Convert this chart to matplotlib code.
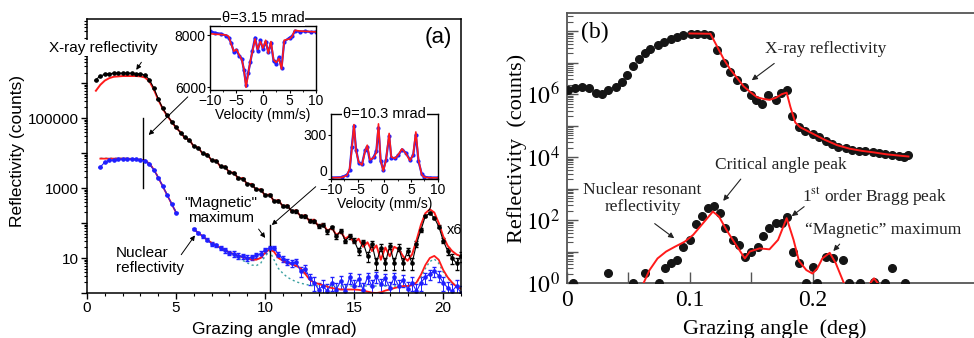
import numpy as np
import matplotlib.pyplot as plt
from matplotlib.ticker import LogLocator, FuncFormatter, NullFormatter, MultipleLocator

plt.rcParams['font.family'] = 'Liberation Sans'
plt.rcParams['mathtext.fontset'] = 'stix'

RED = '#ff1a1a'
BLUE = '#1f1fff'
TEAL = '#3aa0a0'
SERIF = 'Liberation Serif'

# ---- panel (a): grazing angle grid (mrad), values are log10(counts)
xa = np.arange(0.5, 21.01, 0.25)
xray_fit = [5.78, 5.95, 6.07, 6.14, 6.18, 6.19, 6.20, 6.20, 6.20, 6.20, 6.19, 6.16,
            6.05, 5.82, 5.52, 5.27, 5.06, 4.90, 4.72,
            4.60, 4.42, 4.38, 4.18, 4.16, 3.97, 3.97, 3.78, 3.79, 3.60, 3.62, 3.43, 3.45, 3.26, 3.29, 3.10, 3.12, 2.94, 2.97, 2.78,
            2.82, 2.62, 2.66, 2.47, 2.51, 2.32, 2.37, 2.18, 2.23, 2.04, 2.10, 1.90, 1.97, 1.78, 1.86, 1.66, 1.75, 1.55, 1.64, 1.43,
            1.55, 1.32, 1.45, 1.20, 1.36, 0.95, 1.30, 1.05, 1.32, 1.25, 1.05, 0.92, 1.10, 1.50, 1.95, 2.28, 2.39, 2.30, 2.00, 1.62,
            1.35, 1.20, 1.10, 1.05]
xray_data = [6.10, 6.20, 6.25, 6.27, 6.28, 6.28, 6.28, 6.28, 6.28, 6.27, 6.26, 6.23,
             6.10, 5.86, 5.55, 5.28, 5.08, 4.90, 4.74,
             4.58, 4.45, 4.36, 4.20, 4.14, 3.99, 3.95, 3.80, 3.77, 3.62, 3.60, 3.45, 3.43, 3.28, 3.27, 3.12, 3.10, 2.96, 2.95, 2.80,
             2.80, 2.64, 2.63, 2.49, 2.48, 2.35, 2.33, 2.20, 2.19, 2.07, 2.05, 1.92, 1.95, 1.76, 1.88, 1.62, 1.78, 1.50, 1.62, 1.50,
             1.20, 1.45, 1.05, 1.40, 0.85, 1.30, 0.85, 1.35, 0.85, 1.30, 0.85, 1.20, 0.85, 1.40, 1.80, 2.20, 2.28, 2.15, 1.90, 1.50,
             1.20, 1.00, 0.85, 1.05]

x_nuc1 = np.arange(0.75, 5.01, 0.25)
nuc1_data = [3.60, 3.74, 3.79, 3.81, 3.82, 3.83, 3.82, 3.83, 3.82, 3.80, 3.77, 3.68, 3.52, 3.30, 3.06, 2.80, 2.55, 2.30]
nuc1_fit = [3.84, 3.84, 3.84, 3.84, 3.84, 3.84, 3.84, 3.83, 3.82, 3.81, 3.79, 3.70, 3.53, 3.30, 3.05, 2.80, 2.55, 2.30]
nuc1_dot = [3.85, 3.85, 3.85, 3.85, 3.85, 3.85, 3.85, 3.84, 3.83, 3.82, 3.80, 3.71, 3.54, 3.31, 3.06, 2.81, 2.56, 2.31]

x_nuc2 = np.arange(6.0, 21.01, 0.25)
nuc2_data = [1.82, 1.72, 1.62, 1.52, 1.40, 1.36, 1.28, 1.22, 1.15, 1.12, 1.06, 1.05, 1.00, 1.02, 1.08, 1.12, 1.22, 1.30, 1.28, 1.10,
             0.98, 0.90, 0.85, 0.88, 0.62, 0.70, 0.42, 0.30, 0.10, 0.20, 0.05, 0.30, 0.10, 0.35, 0.05, 0.45, 0.20, 0.40, 0.10, 0.45,
             0.20, 0.48, 0.25, 0.42, 0.15, 0.45, 0.20, 0.38, 0.12, 0.30, 0.05, 0.30, 0.45, 0.55, 0.62, 0.50, 0.30, 0.15, 0.05, 0.20,
             0.00]
nuc2_fit = [1.82, 1.72, 1.62, 1.52, 1.43, 1.36, 1.29, 1.22, 1.16, 1.11, 1.06, 1.02, 0.99, 0.96, 0.95, 1.00, 1.15, 1.25, 1.18, 1.00,
            0.92, 0.86, 0.82, 0.78, 0.70, 0.55, 0.38, 0.30, 0.26, 0.22, 0.18, 0.14, 0.12, 0.10, 0.10, 0.10, 0.10, 0.09, 0.07, 0.04,
            0.01, 0.00, 0.02, 0.07, 0.10, 0.14, 0.17, 0.20, 0.20, 0.22, 0.30, 0.52, 0.80, 1.00, 1.06, 0.95, 0.66, 0.45, 0.30, 0.18,
            0.12]
nuc2_dot = [1.82, 1.72, 1.62, 1.52, 1.43, 1.36, 1.29, 1.22, 1.15, 1.08, 1.00, 0.93, 0.86, 0.80, 0.78, 0.85, 1.05, 1.20, 0.95, 0.70,
            0.56, 0.45, 0.38, 0.32, 0.28, 0.25, 0.22, 0.21, 0.20, 0.20, 0.20, 0.20, 0.20, 0.20, 0.20, 0.20, 0.20, 0.20, 0.20, 0.20,
            0.20, 0.20, 0.20, 0.20, 0.20, 0.20, 0.20, 0.20, 0.20, 0.24, 0.30, 0.45, 0.70, 0.90, 0.97, 0.85, 0.60, 0.42, 0.28, 0.20,
            0.15]

# ---- insets: Mossbauer spectra
v1 = [-10, -9, -8, -7, -6.5, -6, -5.5, -5, -4.5, -4, -3.6, -3.2, -2.8, -2.4, -2, -1.5, -1, -0.5, 0,
      0.5, 1, 1.5, 2, 2.5, 3, 3.5, 4, 5, 5.5, 6, 7, 8, 9, 10]
s1_fit = [8050, 8030, 8020, 8000, 7950, 7650, 7380, 7450, 7250, 7050, 6700, 6000, 6500, 7000, 7350, 7850, 7450, 7750, 7500,
          7800, 7300, 7750, 7050, 6950, 7100, 6700, 7800, 7850, 7950, 8180, 8150, 8140, 8130, 8120]
s1_data = [8150, 8080, 8050, 7980, 7900, 7700, 7350, 7420, 7200, 7100, 6650, 6100, 6550, 6950, 7400, 7900, 7400, 7800, 7450,
           7750, 7350, 7700, 7000, 6900, 7150, 6750, 7750, 7900, 7950, 8150, 8120, 8150, 8110, 8130]
v2 = [-10, -8, -7, -6.5, -6.1, -5.7, -5.3, -4.8, -4.2, -3.6, -3.2, -2.7, -2.0, -1.5, -1.1, -0.7, -0.2,
      0.3, 0.9, 1.3, 2.0, 2.6, 3.3, 4.0, 4.8, 5.4, 5.9, 6.4, 7.0, 7.5, 8.5, 10]
s2_fit = [8, 10, 25, 70, 200, 370, 190, 115, 95, 190, 230, 130, 145, 180, 375, 130, 55,
          125, 310, 150, 140, 165, 205, 175, 125, 165, 320, 130, 30, 12, 8, 8]
s2_data = [10, 12, 30, 60, 220, 360, 200, 110, 100, 195, 215, 120, 150, 190, 350, 125, 60,
           130, 290, 145, 140, 160, 200, 180, 130, 160, 300, 120, 35, 15, 10, 10]

# ---- panel (b): grazing angle (deg), log10(counts)
bx_x = [0.001, 0.007, 0.013, 0.018, 0.024, 0.029, 0.034, 0.040, 0.045, 0.049, 0.054, 0.059, 0.064, 0.068, 0.074, 0.079,
        0.085, 0.090, 0.095, 0.101, 0.106, 0.112, 0.117, 0.122, 0.128, 0.133, 0.139, 0.144, 0.150, 0.154, 0.159, 0.164,
        0.170, 0.174, 0.179, 0.183, 0.189, 0.194, 0.200, 0.205, 0.211, 0.216, 0.221, 0.227, 0.232, 0.238, 0.243, 0.249,
        0.254, 0.259, 0.265, 0.270, 0.274, 0.278]
bx_log = [6.12, 6.19, 6.22, 6.19, 6.03, 6.00, 6.12, 6.22, 6.40, 6.61, 6.88, 7.11, 7.30, 7.43, 7.57, 7.67,
          7.76, 7.83, 7.89, 7.92, 7.92, 7.92, 7.89, 7.41, 6.98, 6.72, 6.45, 6.22, 5.98, 5.82, 5.69, 5.98,
          5.82, 6.03, 6.12, 5.31, 4.97, 4.83, 4.74, 4.63, 4.52, 4.42, 4.33, 4.28, 4.23, 4.21, 4.18, 4.15,
          4.12, 4.10, 4.07, 4.05, 4.00, 4.07]
bxf_x = [0.100, 0.117, 0.122, 0.128, 0.133, 0.139, 0.144, 0.150, 0.155, 0.160, 0.165, 0.170, 0.175, 0.179,
         0.182, 0.186, 0.190, 0.195, 0.200, 0.210, 0.220, 0.230, 0.240, 0.250, 0.260, 0.270, 0.278]
bxf_log = [7.93, 7.92, 7.55, 7.10, 6.80, 6.50, 6.25, 6.05, 5.90, 5.85, 5.82, 5.88, 6.00, 6.05,
           5.60, 5.10, 4.95, 4.85, 4.75, 4.55, 4.38, 4.27, 4.20, 4.15, 4.09, 4.05, 4.02]
bn_x = [0.005, 0.034, 0.054, 0.064, 0.075, 0.080, 0.085, 0.090, 0.095, 0.100, 0.105, 0.110, 0.115, 0.120, 0.125,
        0.129, 0.135, 0.140, 0.145, 0.150, 0.156, 0.160, 0.165, 0.170, 0.175, 0.179, 0.184, 0.189, 0.195, 0.200,
        0.204, 0.211, 0.217, 0.225, 0.230, 0.239, 0.250, 0.259, 0.265, 0.275]
bn_log = [0, 0.33, 0, 0.33, 0, 0.49, 0.65, 0.73, 1.15, 1.37, 1.87, 2.13, 2.37, 2.45, 2.21,
          1.74, 1.37, 1.21, 0.84, 1.00, 1.13, 1.49, 1.74, 1.90, 1.92, 2.11, 1.00, 0.63, 0.0, 0.50,
          0.0, 0.82, 0.78, 0.73, 0.0, 0.0, 0.04, 0.0, 0.49, 0.0]
bnf_x = [0.0615, 0.0675, 0.074, 0.081, 0.088, 0.096, 0.103, 0.111, 0.119, 0.124, 0.130, 0.137, 0.145, 0.149, 0.157,
         0.165, 0.172, 0.179, 0.1846, 0.189, 0.195, 0.200, 0.204, 0.208, 0.214, 0.219, 0.226, 0.240, 0.246, 0.250,
         0.254, 0.260]
bnf_log = [-0.1, 0.41, 0.78, 1.00, 1.15, 1.31, 1.53, 1.90, 2.27, 2.11, 1.69, 1.26, 0.78, 1.00, 1.10,
           1.07, 1.37, 2.06, 1.37, 0.70, 0.41, 0.30, 0.47, 0.78, 0.96, 0.62, -0.05, -0.5, -0.05, 0.15,
           -0.05, -0.5]


def p10(a):
    return 10 ** np.asarray(a, dtype=float)


fig = plt.figure(figsize=(9.74, 3.38), dpi=100)

# ================= panel (a)
ax = fig.add_axes([87 / 974, 45 / 338, 374 / 974, 274 / 338])
yd = p10(xray_data)
ax.errorbar(xa, yd, yerr=np.sqrt(yd), fmt='-o', color='k', ms=2.3, lw=0.8,
            elinewidth=0.7, capsize=1.3)
ax.plot(xa, p10(xray_fit), color=RED, lw=1.4)

for xs, d, f, t in [(x_nuc1, nuc1_data, nuc1_fit, nuc1_dot), (x_nuc2, nuc2_data, nuc2_fit, nuc2_dot)]:
    yb = p10(d)
    ax.errorbar(xs, yb, yerr=0.6 * np.sqrt(yb), fmt='-o', color=BLUE, ms=2.3, lw=0.8,
                elinewidth=0.7, capsize=1.3)
    ax.plot(xs, p10(t), color=TEAL, lw=1.0, ls=(0, (1.5, 2)))
    ax.plot(xs, p10(f), color=RED, lw=1.3)

ax.plot([3.15, 3.15], [1e3, 1e5], color='k', lw=1.0)
ax.plot([10.3, 10.3], [10 ** 1.94, 1], color='k', lw=1.0)

ax.set_xlim(0, 21)
ax.set_yscale('log')
ax.set_ylim(1, 10 ** 7.83)
ax.xaxis.set_major_locator(MultipleLocator(5))
ax.xaxis.set_minor_locator(MultipleLocator(1))
ax.yaxis.set_major_locator(LogLocator(base=10, numticks=20))
ax.yaxis.set_minor_locator(LogLocator(base=10, subs=np.arange(2, 10), numticks=20))
ax.yaxis.set_minor_formatter(NullFormatter())


def fmt_a(v, pos):
    e = int(round(np.log10(v)))
    return f'{int(round(v))}' if e in (1, 3, 5) else ''


ax.yaxis.set_major_formatter(FuncFormatter(fmt_a))
ax.tick_params(which='major', direction='out', length=4, width=1, labelsize=11, pad=2)
ax.tick_params(which='minor', direction='out', length=2.2, width=0.8)
for s in ax.spines.values():
    s.set_linewidth(1.1)
ax.set_xlabel('Grazing angle (mrad)', fontsize=12.5, labelpad=5)
ax.set_ylabel('Reflectivity (counts)', fontsize=12.5)
ax.yaxis.set_label_coords(-0.166, 0.52)

ax.text(0.94, 10 ** 7.0, 'X-ray reflectivity', fontsize=11, ha='center', va='center',
        bbox=dict(fc='white', ec='none', pad=1), zorder=5)
ax.annotate('', xy=(2.68, 10 ** 6.31), xytext=(3.14, 10 ** 6.66),
            arrowprops=dict(arrowstyle='-|>', color='k', lw=0.7, mutation_scale=7))
ax.text(19.7, 10 ** 7.31, '(a)', fontsize=16, ha='center', va='center')
ax.text(7.5, 10 ** 2.37, '"Magnetic"\nmaximum', fontsize=11, ha='center', va='center',
        linespacing=1.1)
ax.annotate('', xy=(10.1, 10 ** 1.51), xytext=(9.54, 10 ** 1.89),
            arrowprops=dict(arrowstyle='-|>', color='k', lw=0.7, mutation_scale=7))
ax.text(1.62, 10 ** 0.94, 'Nuclear\nreflectivity', fontsize=11, ha='left', va='center',
        linespacing=1.1)
ax.annotate('', xy=(6.15, 10 ** 1.71), xytext=(5.2, 10 ** 1.03),
            arrowprops=dict(arrowstyle='-|>', color='k', lw=0.7, mutation_scale=7))
ax.text(20.63, 10 ** 1.8, 'x6', fontsize=10.5, ha='center', va='center')
ax.annotate('', xy=(3.35, 10 ** 4.46), xytext=(5.77, 10 ** 5.66),
            arrowprops=dict(arrowstyle='-|>', color='k', lw=0.7, mutation_scale=7))
ax.annotate('', xy=(10.26, 10 ** 1.89), xytext=(12.96, 10 ** 3.09),
            arrowprops=dict(arrowstyle='-|>', color='k', lw=0.7, mutation_scale=7))

# ================= insets
in1 = fig.add_axes([210 / 974, 248 / 338, 106 / 974, 64.3 / 338])
in1.plot(v1, s1_data, '-o', color=BLUE, ms=2, lw=1.6)
in1.plot(v1, s1_fit, color=RED, lw=1.2)
in1.set_xlim(-10, 10)
in1.set_ylim(5897, 8356)
in1.set_yticks([6000, 8000])
in1.text(0.5, 1.12, 'θ=3.15 mrad', transform=in1.transAxes, ha='center', va='center',
         fontsize=10.5, bbox=dict(fc='white', ec='none', pad=0.5))

in2 = fig.add_axes([331 / 974, 159 / 338, 106.7 / 974, 64.7 / 338])
in2.plot(v2, s2_data, '-o', color=BLUE, ms=2, lw=1.6)
in2.plot(v2, s2_fit, color=RED, lw=1.2)
in2.set_xlim(-10, 10)
in2.set_ylim(0, 440)
in2.set_yticks([0, 300])
in2.text(0.5, 1.005, 'θ=10.3 mrad', transform=in2.transAxes, ha='center', va='center',
         fontsize=10.5, bbox=dict(fc='white', ec='none', pad=0.5))

for a in (in1, in2):
    a.set_xticks([-10, -5, 0, 5, 10])
    a.xaxis.set_minor_locator(MultipleLocator(2.5))
    a.tick_params(which='major', direction='out', length=2.5, labelsize=10, pad=0.5)
    a.tick_params(which='minor', direction='out', length=1.5)
    a.set_xlabel('Velocity (mm/s)', fontsize=10, labelpad=0)
    for s in a.spines.values():
        s.set_linewidth(1.0)
# lift the "0" label of the second inset a little so it clears "-10"
in2.get_yticklabels()[0].set_verticalalignment('bottom')

# ================= panel (b)
axb = fig.add_axes([566.5 / 974, 55 / 338, 430.5 / 974, 270 / 338])
axb.plot(bx_x, p10(bx_log), 'o', color='#151515', ms=5.5, zorder=3)
axb.plot(bxf_x, p10(bxf_log), color=RED, lw=1.4, zorder=4)
axb.plot(bn_x, p10(bn_log), 'o', color='#151515', ms=5.5, zorder=3)
axb.plot(bnf_x, p10(bnf_log), color=RED, lw=1.4, zorder=4)
axb.set_xlim(0, 0.35)
axb.set_yscale('log')
axb.set_ylim(1, 10 ** 8.58)
axb.set_xticks([0, 0.1, 0.2])
axb.set_xticklabels(['0', '0.1', '0.2'])
axb.set_xticks([0.05, 0.15], minor=True)
axb.yaxis.set_major_locator(LogLocator(base=10, numticks=20))
axb.yaxis.set_minor_locator(LogLocator(base=10, subs=np.arange(2, 10), numticks=20))
axb.yaxis.set_minor_formatter(NullFormatter())


def fmt_b(v, pos):
    e = int(round(np.log10(v)))
    return f'$10^{{{e}}}$' if e in (0, 2, 4, 6) else ''


axb.yaxis.set_major_formatter(FuncFormatter(fmt_b))
axb.tick_params(which='major', direction='in', length=8, width=1, labelsize=17, pad=5, color='#555555')
axb.tick_params(which='minor', direction='in', length=4, width=0.8, color='#555555')
axb.tick_params(axis='x', which='minor', length=8, width=1)
for lab in axb.get_xticklabels() + axb.get_yticklabels():
    lab.set_fontfamily(SERIF)
for s in axb.spines.values():
    s.set_color('#555555')
    s.set_linewidth(1.3)
axb.set_xlabel('Grazing angle  (deg)', fontsize=16, family=SERIF)
axb.xaxis.set_label_coords(0.484, -0.133)
axb.set_ylabel('Reflectivity  (counts)', fontsize=16, family=SERIF)
axb.yaxis.set_label_coords(-0.092, 0.5)

tb = dict(fontsize=12.5, family=SERIF, color='#222222')
arr = dict(arrowstyle='-|>', color='#222222', lw=0.8, mutation_scale=8)
axb.text(0.0228, 10 ** 7.95, '(b)', fontsize=17, family=SERIF, ha='center', va='center')
axb.text(0.2106, 10 ** 7.44, 'X-ray reflectivity', ha='center', va='center', **tb)
axb.annotate('', xy=(0.1488, 10 ** 6.39), xytext=(0.1707, 10 ** 7.03), arrowprops=arr)
axb.text(0.174, 10 ** 3.75, 'Critical angle peak', ha='center', va='center', **tb)
axb.annotate('', xy=(0.126, 10 ** 2.54), xytext=(0.1431, 10 ** 3.37), arrowprops=arr)
axb.text(0.0618, 10 ** 2.68, 'Nuclear resonant\nreflectivity', ha='center', va='center',
         linespacing=1.05, **tb)
axb.annotate('', xy=(0.0894, 10 ** 1.37), xytext=(0.0699, 10 ** 1.94), arrowprops=arr)
axb.text(0.25, 10 ** 2.73, '1$^{\\mathrm{st}}$ order Bragg peak', ha='center', va='center', **tb)
axb.annotate('', xy=(0.1813, 10 ** 2.07), xytext=(0.195, 10 ** 2.48), arrowprops=arr)
axb.text(0.1935, 10 ** 1.69, '\u201cMagnetic\u201d maximum', ha='left', va='center', **tb)
axb.annotate('', xy=(0.2154, 10 ** 0.95), xytext=(0.2236, 10 ** 1.30), arrowprops=arr)

fig.savefig('out.png', dpi=100)
